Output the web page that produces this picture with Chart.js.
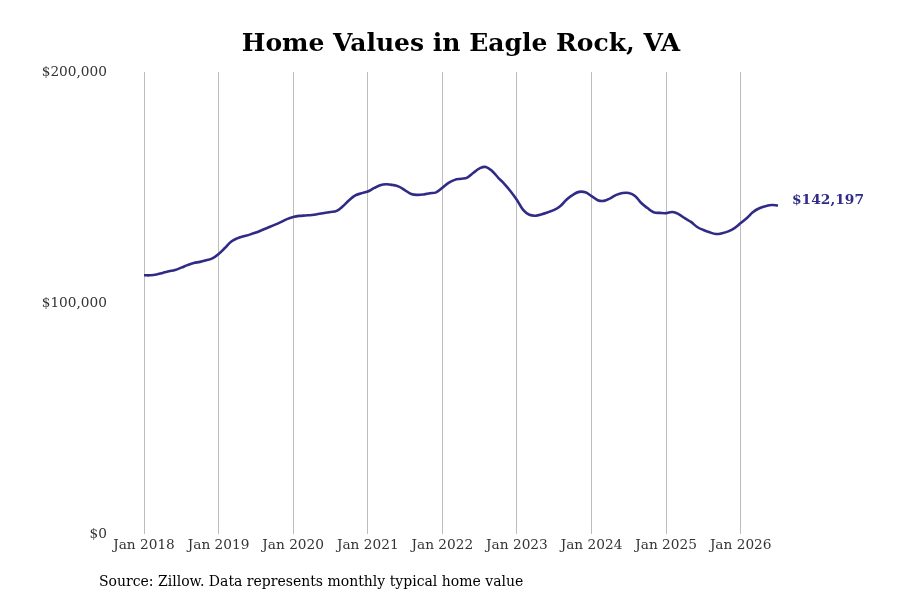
<!DOCTYPE html>
<html>
<head>
<meta charset="utf-8">
<script src="https://cdn.jsdelivr.net/npm/chart.js@4.4.1/dist/chart.umd.min.js"></script>
<style>
  html, body { margin: 0; padding: 0; background: #fff; }
  #wrap { width: 900px; height: 600px; }
</style>
</head>
<body>
<div id="wrap"><canvas id="homeChart" width="900" height="600"></canvas></div>
<script>
var monthNames = ['Jan', 'Feb', 'Mar', 'Apr', 'May', 'Jun', 'Jul', 'Aug', 'Sep', 'Oct', 'Nov', 'Dec'];
var years = [2018, 2019, 2020, 2021, 2022, 2023, 2024, 2025, 2026];

// typical home value, thousands of dollars, Jan 2018 .. Jul 2026
var values2018 = [112.0, 112.0, 112.3, 113.0, 113.7, 114.3, 115.3, 116.4, 117.3, 117.8, 118.5, 119.3];
var values2019 = [121.2, 123.8, 126.5, 128.0, 128.9, 129.6, 130.5, 131.6, 132.7, 133.8, 135.0, 136.3];
var values2020 = [137.2, 137.7, 137.9, 138.1, 138.5, 139.0, 139.4, 139.9, 141.9, 144.5, 146.6, 147.5];
var values2021 = [148.3, 149.7, 151.0, 151.4, 151.1, 150.4, 148.8, 147.2, 146.8, 147.0, 147.5, 147.9];
var values2022 = [149.9, 152.0, 153.3, 153.8, 154.3, 156.4, 158.3, 158.9, 157.1, 154.2, 151.5, 148.3];
var values2023 = [144.6, 140.3, 138.2, 137.8, 138.4, 139.3, 140.3, 142.0, 144.8, 146.8, 148.1, 147.9];
var values2024 = [146.3, 144.5, 144.2, 145.3, 146.8, 147.6, 147.6, 146.3, 143.3, 141.1, 139.3, 139.0];
var values2025 = [138.9, 139.4, 138.5, 136.7, 135.1, 132.9, 131.6, 130.6, 129.9, 130.2, 131.0, 132.4];
var values2026 = [134.6, 136.8, 139.4, 141.0, 141.9, 142.4, 142.197];

var yTicks = [0, 100000, 200000];

var lineColor = '#2f2b86';

var labels = [];
var data = [];
[values2018, values2019, values2020, values2021, values2022, values2023, values2024, values2025, values2026].forEach(function (list, yi) {
    list.forEach(function (v, mi) {
        labels.push(monthNames[mi] + ' ' + years[yi]);
        data.push(Math.round(v * 1000));
    });
});

function money(v) {
    return '$' + v.toLocaleString('en-US');
}

// title, source note and end-of-line value label
var textPlugin = {
    id: 'textPlugin',
    afterDraw: function (chart) {
        var ctx = chart.ctx;
        ctx.save();
        ctx.fillStyle = '#000';
        ctx.font = 'bold 25px "DejaVu Serif"';
        ctx.textAlign = 'center';
        ctx.textBaseline = 'middle';
        ctx.fillText('Home Values in Eagle Rock, VA', 461, 44);

        ctx.font = '14px "DejaVu Serif"';
        ctx.textAlign = 'left';
        ctx.fillText('Source: Zillow. Data represents monthly typical home value', 99, 582);

        var meta = chart.getDatasetMeta(0);
        var last = meta.data[meta.data.length - 1];
        ctx.fillStyle = lineColor;
        ctx.font = 'bold 13.8px "DejaVu Serif"';
        ctx.fillText(money(data[data.length - 1]), last.x + 14, last.y - 5);
        ctx.restore();
    }
};

var ctx = document.getElementById('homeChart').getContext('2d');
var homeChart = new Chart(ctx, {
    type: 'line',
    data: {
        labels: labels,
        datasets: [
            {
                data: data,
                borderColor: lineColor,
                borderWidth: 2.6,
                pointRadius: 0,
                tension: 0.4,
                fill: false
            }
        ]
    },
    options: {
        responsive: false,
        animation: false,
        layout: {
            padding: { left: 42, right: 122, top: 72, bottom: 0 }
        },
        plugins: {
            legend: { display: false },
            tooltip: { enabled: false }
        },
        scales: {
            x: {
                type: 'category',
                offset: false,
                border: { display: false },
                grid: {
                    drawTicks: false,
                    lineWidth: 1,
                    color: function (c) {
                        var lab = labels[c.index] || '';
                        return lab.indexOf('Jan') === 0 ? '#bdbdbd' : 'rgba(0,0,0,0)';
                    }
                },
                afterFit: function (axis) {
                    axis.height = 66;
                },
                ticks: {
                    autoSkip: false,
                    maxRotation: 0,
                    padding: 3,
                    color: '#333',
                    font: { family: 'DejaVu Serif', size: 13.7 },
                    callback: function (val, i) {
                        return labels[i].indexOf('Jan') === 0 ? labels[i] : '';
                    }
                }
            },
            y: {
                min: 0,
                max: 200000,
                border: { display: false },
                grid: { display: false, drawTicks: false },
                afterBuildTicks: function (axis) {
                    axis.ticks = yTicks.map(function (v) { return { value: v }; });
                },
                afterFit: function (axis) {
                    axis.width = 102;
                },
                ticks: {
                    padding: 37,
                    color: '#333',
                    font: { family: 'DejaVu Serif', size: 13.7 },
                    callback: function (v) { return money(v); }
                }
            }
        }
    },
    plugins: [textPlugin]
});
</script>
</body>
</html>
